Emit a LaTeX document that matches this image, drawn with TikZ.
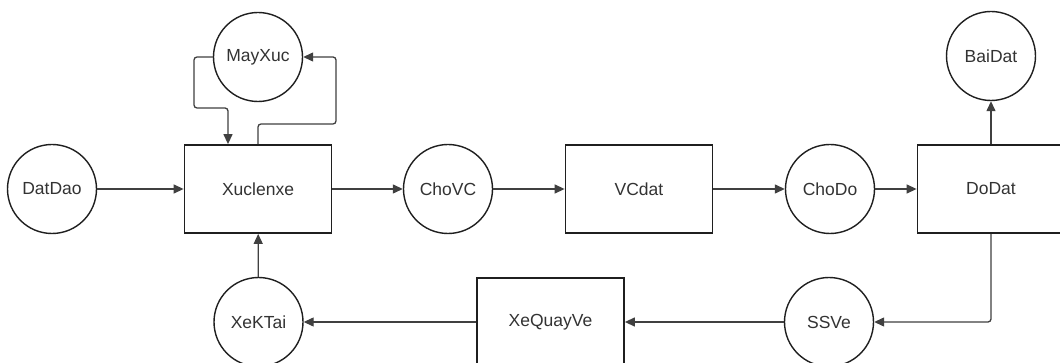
\documentclass[tikz,border=0pt]{standalone}
\usepackage{fontspec}
\setmainfont{Liberation Sans}
\usetikzlibrary{arrows.meta}
\begin{document}
\begin{tikzpicture}[x=1pt,y=-1pt,
  lbl/.style={font=\fontsize{17.5}{20}\selectfont,text=black!80},
  circ/.style={lbl,circle,draw=black!88,line width=1.4pt,minimum size=89pt,inner sep=0pt},
  rect/.style={lbl,rectangle,draw=black!88,line width=1.8pt,minimum width=147pt,minimum height=88pt,inner sep=0pt},
  conn/.style={draw=black!75,line width=1.3pt,rounded corners=3pt,-{Triangle[length=10pt,width=9pt]}}]
\useasboundingbox (0,0) rectangle (1060,363);
\fill[white] (0,0) rectangle (1060,363);
\clip (0,0) rectangle (1060,363);
% top row
\node[circ] (datdao) at (52,189) {DatDao};
\node[rect] (xuc) at (258,189) {Xuclenxe};
\node[circ] (mayxuc) at (258,57) {MayXuc};
\node[circ] (chovc) at (448,189) {ChoVC};
\node[rect] (vcdat) at (639,189) {VCdat};
\node[circ] (chodo) at (830,189) {ChoDo};
\node[rect] (dodat) at (991,189) {DoDat};
\node[circ] (baidat) at (991,56) {BaiDat};
% bottom row
\node[circ] (ssve) at (829,322) {SSVe};
\node[rect] (xequay) at (550.5,322) {XeQuayVe};
\node[circ] (xektai) at (258.5,322) {XeKTai};
% bend points
\coordinate (m1) at (194,108);
\coordinate (m2) at (336,124);
% connectors
\draw[conn] (datdao) -- (xuc);
\draw[conn] (xuc) -- (chovc);
\draw[conn] (chovc) -- (vcdat);
\draw[conn] (vcdat) -- (chodo);
\draw[conn] (chodo) -- (dodat);
\draw[conn] (dodat) -- (baidat);
\draw[conn] (dodat.south) |- (ssve.east);
\draw[conn] (ssve) -- (xequay);
\draw[conn] (xequay) -- (xektai);
\draw[conn] (xektai) -- (xuc);
\draw[conn] (mayxuc.west) -| (m1) -| ([xshift=-30pt]xuc.north);
\draw[conn] (xuc.north) |- (m2) |- (mayxuc.east);
\end{tikzpicture}
\end{document}
